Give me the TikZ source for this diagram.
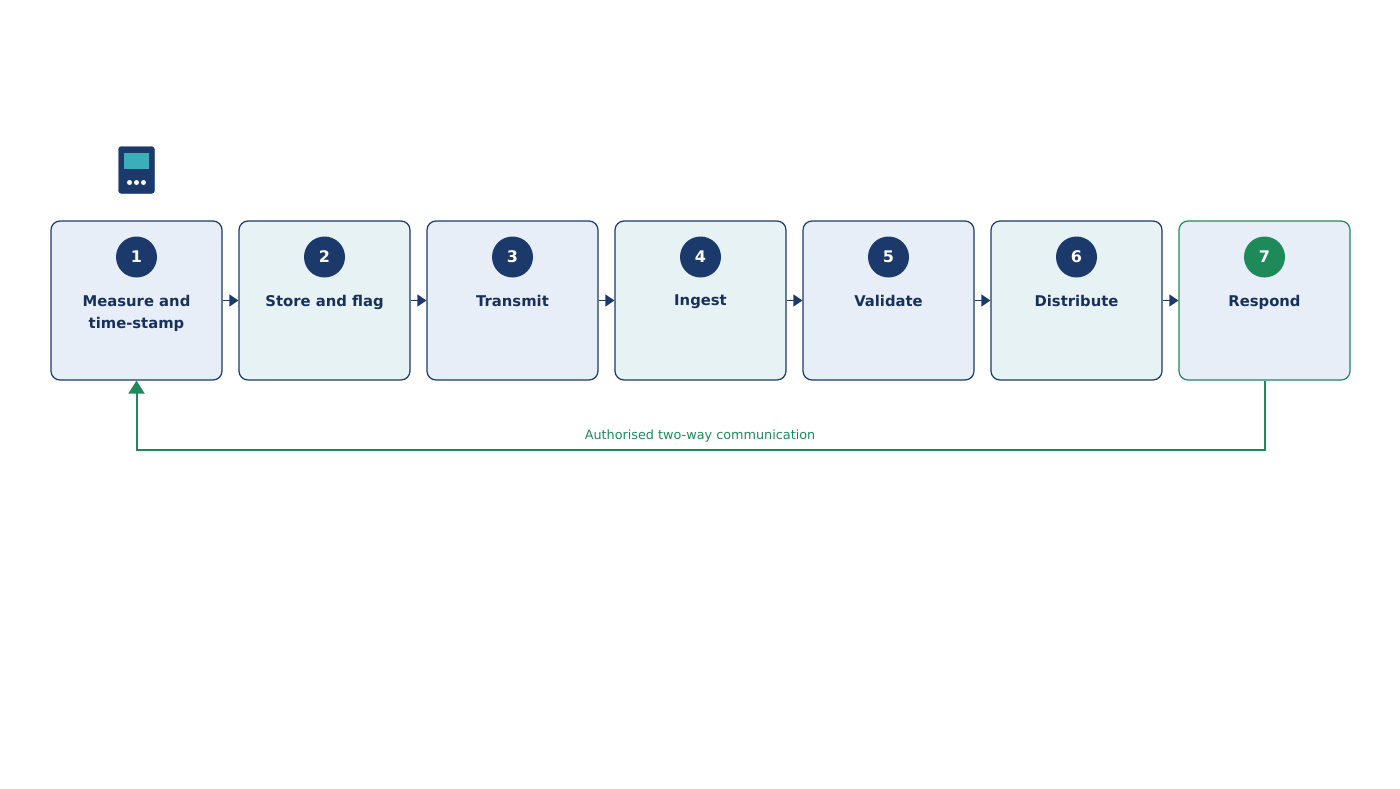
\documentclass[tikz,border=0pt]{standalone}
\usepackage{fontspec}
\setmainfont{DejaVu Sans}
\usetikzlibrary{positioning,arrows.meta}
\definecolor{navy}{HTML}{1B3A6B}
\definecolor{paleA}{HTML}{E8EEF7}
\definecolor{paleB}{HTML}{E6F2F4}
\definecolor{teal}{HTML}{3AAFB9}
\definecolor{green}{HTML}{1E8A5A}
\tikzset{
  step box/.style={
    draw=navy, line width=1.2pt, rounded corners=9pt,
    minimum width=171pt, minimum height=159pt, inner sep=0pt
  },
  step num/.style={
    circle, fill=navy, minimum size=41pt, inner sep=0pt,
    text=white, font=\bfseries\fontsize{16}{18}\selectfont
  },
  step text/.style={
    text=navy!85!black, align=center,
    font=\bfseries\fontsize{14.8}{22}\selectfont
  }
}
\begin{document}
\begin{tikzpicture}[x=1pt, y=-1pt, >={Triangle[length=9pt,width=12pt]}]
 \useasboundingbox (0,0) rectangle (1400,788);

 % device icon
 \node[draw=navy, fill=navy, rounded corners=3pt, minimum width=36pt,
   minimum height=47pt, inner sep=0pt] (icon) at (136.5,170) {};
 \fill[teal] (124,153) rectangle (149,169);
 \foreach \dx in {-7,0,7} \fill[white] (136.5+\dx,182.5) circle (2.5pt);

 % steps
 \foreach \i/\lbl/\col/\fl in {1/{Measure and\\time-stamp}/navy/paleA,
                               2/{Store and flag}/navy/paleB,
                               3/{Transmit}/navy/paleA,
                               4/{Ingest}/navy/paleB,
                               5/{Validate}/navy/paleA,
                               6/{Distribute}/navy/paleB,
                               7/{Respond}/green/paleA} {
   \node[step box, draw=\col, fill=\fl] (s\i) at (136.5+188*\i-188,300.5) {};
   \node[step num, fill=\col] (n\i) at (136.5+188*\i-188,257) {\i};
   \node[step text, anchor=north] (t\i) at (136.5+188*\i-188,291.5) {\lbl};
 }

 \foreach \i [evaluate=\i as \j using int(\i+1)] in {1,...,6}
   \draw[->, navy, line width=1.2pt] (s\i.east) -- (s\j.west);

 % feedback loop
 \coordinate (base) at (0,450);
 \draw[->, green, line width=2pt, >={Triangle[length=13pt,width=16pt]}]
   (s7.south) -- (s7.south |- base) -- (s1.south |- base) -- (s1.south);
 \node[text=green, font=\fontsize{12.8}{14}\selectfont, anchor=south]
   (fb) at (700,446) {Authorised two-way communication};
\end{tikzpicture}
\end{document}
